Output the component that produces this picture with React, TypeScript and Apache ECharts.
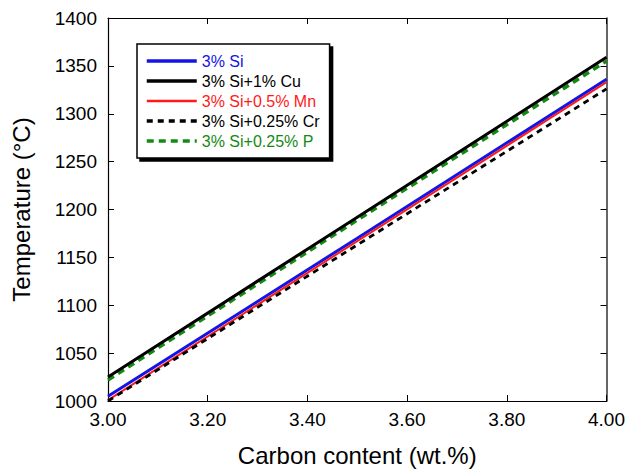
import React, { useEffect, useRef } from "react";
import * as echarts from "echarts";

const seriesNames = ["3% Si", "3% Si+1% Cu", "3% Si+0.5% Mn", "3% Si+0.25% Cr", "3% Si+0.25% P"];
const carbon = [3.0, 3.5, 4.0];
const siTemp = [1005, 1170, 1336];
const cuTemp = [1025, 1192, 1359];
const mnTemp = [1001, 1167, 1333];
const crTemp = [1000, 1163, 1326];
const pTemp = [1022, 1189, 1355];
const colors = ["#1414e6", "#000000", "#ff1a1a", "#000000", "#138a13"];
const yTicks = [1000, 1050, 1100, 1150, 1200, 1250, 1300, 1350, 1400];

export default function App() {
  const ref = useRef<HTMLDivElement>(null);
  useEffect(() => {
    if (!ref.current) return;
    const chart = echarts.init(ref.current, null, { renderer: "svg" });
    const font = "'Liberation Sans', Arial, sans-serif";
    const allData = [siTemp, cuTemp, mnTemp, crTemp, pTemp];
    const widths = [3, 3, 2, 2.8, 3.5];
    const types: any[] = ["solid", "solid", "solid", [6, 5], [7, 5]];
    const order = [0, 2, 3, 4, 1];
    const series = order.map((i) => ({
      name: seriesNames[i],
      type: "line",
      showSymbol: false,
      symbol: "none",
      data: carbon.map((c, k) => [c, allData[i][k]]),
      lineStyle: { color: colors[i], width: widths[i], type: types[i] },
      itemStyle: { color: colors[i] },
      z: 3,
    }));
    chart.setOption({
      animation: false,
      textStyle: { fontFamily: font },
      grid: { left: 108, right: 17, top: 18, bottom: 69 },
      legend: {
        orient: "vertical",
        left: 137,
        top: 44,
        data: seriesNames.map((n, i) => ({
          name: n,
          textStyle: { color: colors[i] },
          itemStyle: { opacity: 0 },
          lineStyle: { width: i === 2 ? 2.5 : 3.5, type: types[i] },
        })),
        itemWidth: 50,
        itemHeight: 14,
        itemGap: 4,
        padding: [9, 10, 9, 8],
        backgroundColor: "#fff",
        borderColor: "#000",
        borderWidth: 1.5,
        borderRadius: 0,
        shadowColor: "#000",
        shadowBlur: 0,
        shadowOffsetX: 3,
        shadowOffsetY: 3,
        textStyle: { fontSize: 16, fontFamily: font },
        selectedMode: false,
      },
      xAxis: [
        {
          type: "value",
          min: 3.0,
          max: 4.0,
          interval: 0.2,
          name: "Carbon content (wt.%)",
          nameLocation: "middle",
          nameGap: 42,
          nameTextStyle: { fontSize: 24, color: "#000", fontFamily: font },
          axisLine: { lineStyle: { color: "#000", width: 1.2 } },
          axisTick: { inside: true, length: 6, lineStyle: { color: "#000" } },
          axisLabel: { fontSize: 19, color: "#000", margin: 9, formatter: (v: number) => v.toFixed(2) },
          splitLine: { show: false },
        },
        {
          type: "value",
          position: "top",
          min: 3.0,
          max: 4.0,
          interval: 0.2,
          axisLine: { lineStyle: { color: "#000", width: 1.2 } },
          axisTick: { inside: true, length: 6, lineStyle: { color: "#000" } },
          axisLabel: { show: false },
          splitLine: { show: false },
        },
      ],
      yAxis: [
        {
          type: "value",
          min: 1000,
          max: 1400,
          interval: 50,
          name: "Temperature (°C)",
          nameLocation: "middle",
          nameGap: 75,
          nameTextStyle: { fontSize: 24, color: "#000", fontFamily: font },
          axisLine: { show: true, lineStyle: { color: "#000", width: 1.2 } },
          axisTick: { show: true, inside: true, length: 6, lineStyle: { color: "#000" } },
          axisLabel: { fontSize: 19, color: "#000", margin: 11, formatter: (v: number) => (yTicks.includes(v) ? String(v) : "") },
          splitLine: { show: false },
        },
        {
          type: "value",
          position: "right",
          min: 1000,
          max: 1400,
          interval: 50,
          axisLine: { show: true, lineStyle: { color: "#333", width: 1.5 } },
          axisTick: { show: true, inside: true, length: 6, lineStyle: { color: "#000" } },
          axisLabel: { show: false },
          splitLine: { show: false },
        },
      ],
      series,
    });
    return () => chart.dispose();
  }, []);
  return <div ref={ref} style={{ width: 628, height: 472, position: "fixed", left: 0, top: 0, background: "#fff" }} />;
}
